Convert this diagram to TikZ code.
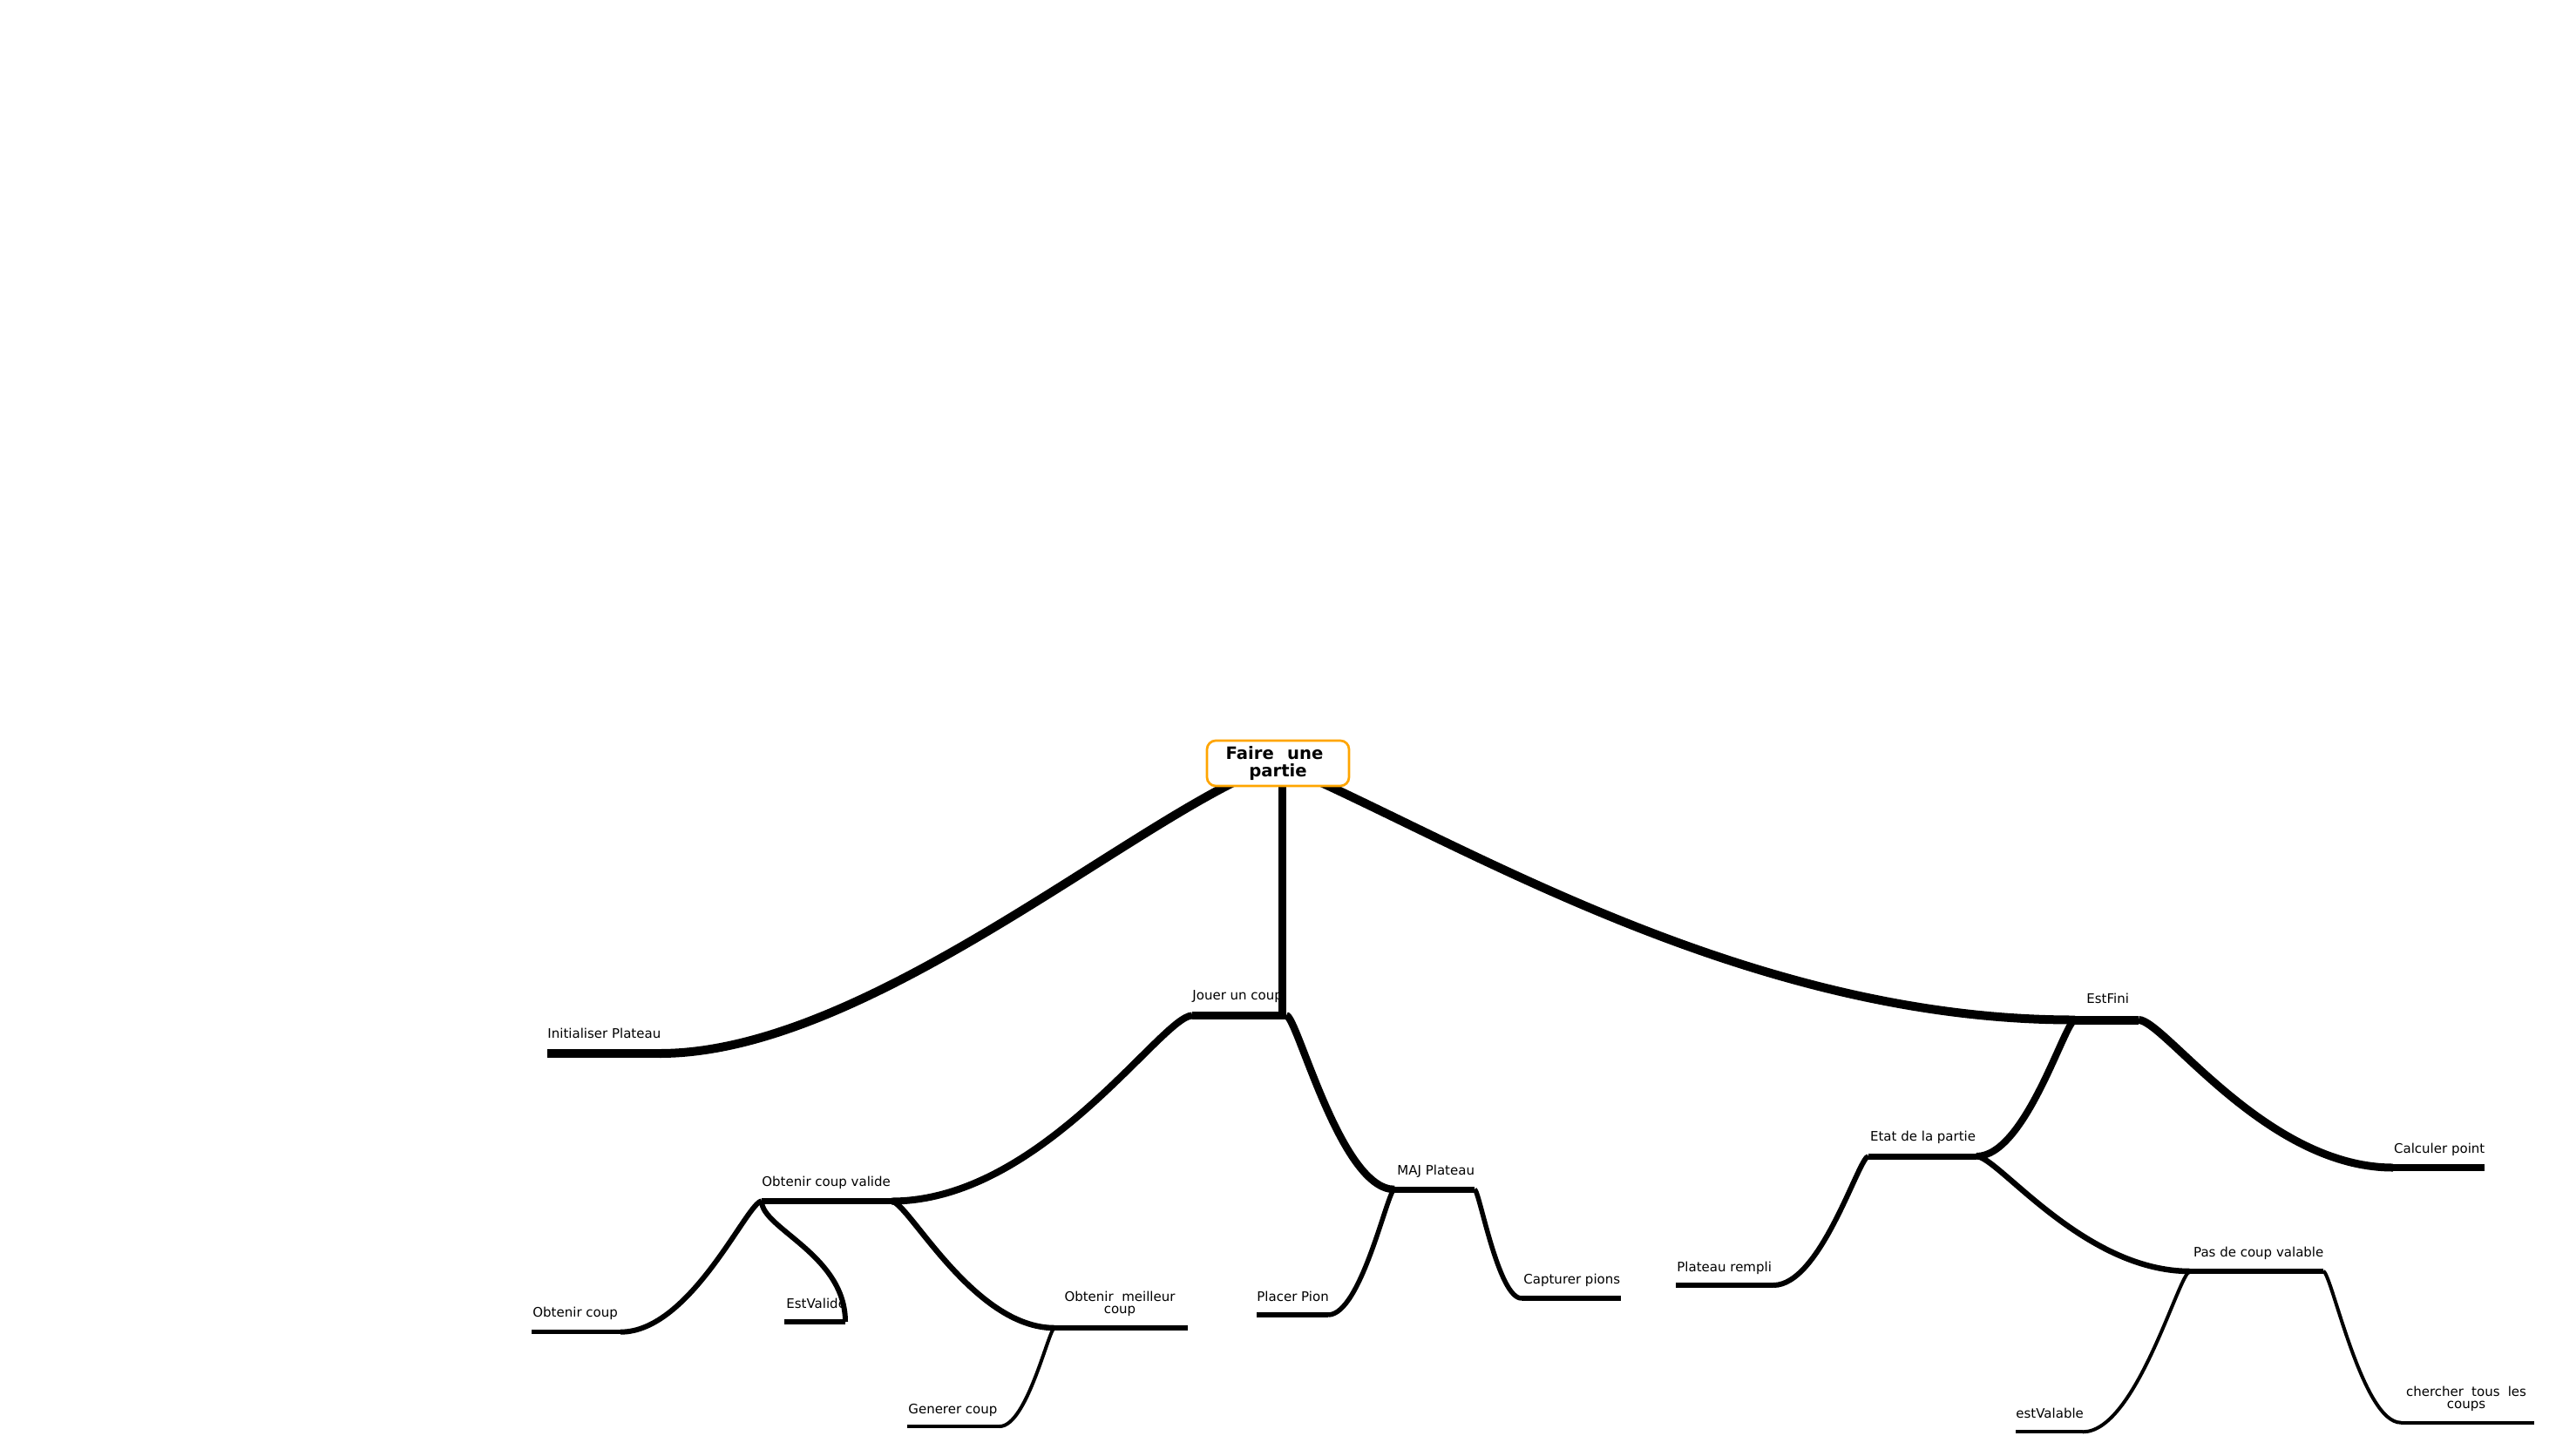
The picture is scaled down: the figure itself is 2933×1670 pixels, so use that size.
\documentclass[tikz,border=0pt]{standalone}
\usepackage{fontspec}
\setmainfont{DejaVu Sans}
\usetikzlibrary{calc,backgrounds}
\definecolor{rootorange}{RGB}{255,165,0}
\newcommand\twoline[3]{\vtop{\baselineskip=#1\lineskiplimit=-100pt\lineskip=0pt\halign{\hfil##\hfil\cr#2\cr#3\cr}}}
\tikzset{
  lbl/.style={font=\fontsize{7.5pt}{9pt}\selectfont, inner sep=0pt, anchor=base west},
  lbltwo/.style={font=\fontsize{7.5pt}{9pt}\selectfont, inner sep=0pt, anchor=base},
  wire/.style={draw=black, line width=#1, line cap=butt},
  mm/.style={to path={let \p1=(\tikztostart), \p2=(\tikztotarget) in .. controls ({\x1+0.1*(\x2-\x1)},\y1) and ({\x1+0.5*(\x2-\x1)},\y2) .. (\tikztotarget)}},
  rootbox/.style={draw=rootorange, line width=1.35pt, fill=white, rounded corners=5pt, minimum width=81.5pt, minimum height=26pt, inner sep=0pt, font=\fontsize{9.8pt}{12pt}\selectfont\bfseries}
}
\begin{document}
\begin{tikzpicture}[x=0.5pt,y=-0.5pt]
\useasboundingbox (0,0) rectangle (2933,1670);

% root
\node[rootbox] (root) at (1466.5,876) {\twoline{9.65pt}{\makebox[55.85pt][s]{Faire une}\kern4pt}{partie}};

% attach points
\coordinate (iniL) at (628,1209);    \coordinate (iniR) at (757,1209);
\coordinate (jouL) at (1368,1165.5); \coordinate (jouR) at (1476,1165.5); \coordinate (jouT) at (1471,1165.5);
\coordinate (finL) at (2381,1170.5); \coordinate (finR) at (2454,1170.5);
\coordinate (ocvL) at (874,1378.5);  \coordinate (ocvR) at (1023,1378.5);
\coordinate (majL) at (1600,1365);   \coordinate (majR) at (1692,1365);
\coordinate (calL) at (2746,1340);   \coordinate (calR) at (2851,1340);
\coordinate (etaL) at (2144,1327);   \coordinate (etaR) at (2268,1327);
\coordinate (ocoL) at (610,1528.7);  \coordinate (ocoR) at (712,1528.7);
\coordinate (esvL) at (900,1517);    \coordinate (esvR) at (970,1517);
\coordinate (omcL) at (1210,1524);   \coordinate (omcR) at (1363,1524);
\coordinate (genL) at (1041,1637);   \coordinate (genR) at (1147,1637);
\coordinate (plaL) at (1442,1509);   \coordinate (plaR) at (1524,1509);
\coordinate (capL) at (1746,1490);   \coordinate (capR) at (1860,1490);
\coordinate (remL) at (1923,1475);   \coordinate (remR) at (2035,1475);
\coordinate (pasL) at (2513,1459);   \coordinate (pasR) at (2666,1459);
\coordinate (evlL) at (2313,1643.3); \coordinate (evlR) at (2390,1643.3);
\coordinate (cheL) at (2755,1632.7); \coordinate (cheR) at (2908,1632.7);

% labels
\node[lbl] (ini) at (628,1191.7) {Initialiser Plateau};
\node[lbl] (jou) at (1368,1147) {Jouer un coup};
\node[lbl] (fin) at (2394,1151.7) {EstFini};
\node[lbl] (ocv) at (874,1361) {Obtenir coup valide};
\node[lbl] (maj) at (1603,1348) {MAJ Plateau};
\node[lbl] (cal) at (2746.7,1323) {Calculer point};
\node[lbl] (eta) at (2145.7,1309) {Etat de la partie};
\node[lbl] (oco) at (611,1511.7) {Obtenir coup};
\node[lbl] (esv) at (902,1501.7) {EstValide};
\node[lbltwo] (omc) at (1285,1493) {\twoline{7.25pt}{\makebox[63.5pt][s]{Obtenir meilleur}}{coup}};
\node[lbl] (gen) at (1042,1622) {Generer coup};
\node[lbl] (pla) at (1442,1493) {Placer Pion};
\node[lbl] (cap) at (1748,1473) {Capturer pions};
\node[lbl] (rem) at (1924,1459) {Plateau rempli};
\node[lbl] (pas) at (2516.7,1442.7) {Pas de coup valable};
\node[lbl] (evl) at (2313,1627.7) {estValable};
\node[lbltwo] (che) at (2830,1602.7) {\twoline{7pt}{\makebox[69pt][s]{chercher tous les}}{coups}};

% root connectors (behind the root box)
\begin{pgfonlayer}{background}
  \fill[white] (0,0) rectangle (2933,1670);
  \draw[wire=5pt] (root.center) .. controls (1316,925) and (1000,1209) .. (iniR);
  \draw[wire=4.5pt] (root.center -| jouT) -- (jouT);
  \draw[wire=5pt] (root.center) .. controls (1666,960) and (2000,1171) .. (finL);
\end{pgfonlayer}

% underlines
\draw[wire=5pt] (iniL) -- (iniR);
\draw[wire=4.5pt] (jouL) -- (jouR);
\draw[wire=5pt] (finL) -- (finR);
\draw[wire=3.25pt] (ocvL) -- (ocvR);
\draw[wire=3.5pt] (majL) -- (majR);
\draw[wire=4pt] (calL) -- (calR);
\draw[wire=3.5pt] (etaL) -- (etaR);
\draw[wire=2.75pt] (ocoL) -- (ocoR);
\draw[wire=3pt] (esvL) -- (esvR);
\draw[wire=2.75pt] (omcL) -- (omcR);
\draw[wire=1.85pt] (genL) -- (genR);
\draw[wire=3pt] (plaL) -- (plaR);
\draw[wire=3pt] (capL) -- (capR);
\draw[wire=2.75pt] (remL) -- (remR);
\draw[wire=3.25pt] (pasL) -- (pasR);
\draw[wire=2pt] (evlL) -- (evlR);
\draw[wire=2pt] (cheL) -- (cheR);

% connectors
\draw[wire=4pt] (jouL) to[mm] (ocvR);
\draw[wire=4.25pt] (jouR) to[mm] (majL);
\draw[wire=3pt] (ocvL) to[mm] (ocoR);
\draw[wire=3pt] (ocvL) .. controls (874,1410) and (970,1440) .. (esvR);
\draw[wire=3.25pt] (ocvR) to[mm] (omcL);
\draw[wire=2pt] (omcL) to[mm] (genR);
\draw[wire=2.75pt] (majL) to[mm] (plaR);
\draw[wire=2.75pt] (majR) to[mm] (capL);
\draw[wire=4.5pt] (finR) to[mm] (calL);
\draw[wire=4pt] (finL) to[mm] (etaR);
\draw[wire=3pt] (etaL) to[mm] (remR);
\draw[wire=3.25pt] (etaR) to[mm] (pasL);
\draw[wire=2pt] (pasL) to[mm] (evlR);
\draw[wire=2pt] (pasR) to[mm] (cheL);
\end{tikzpicture}
\end{document}
